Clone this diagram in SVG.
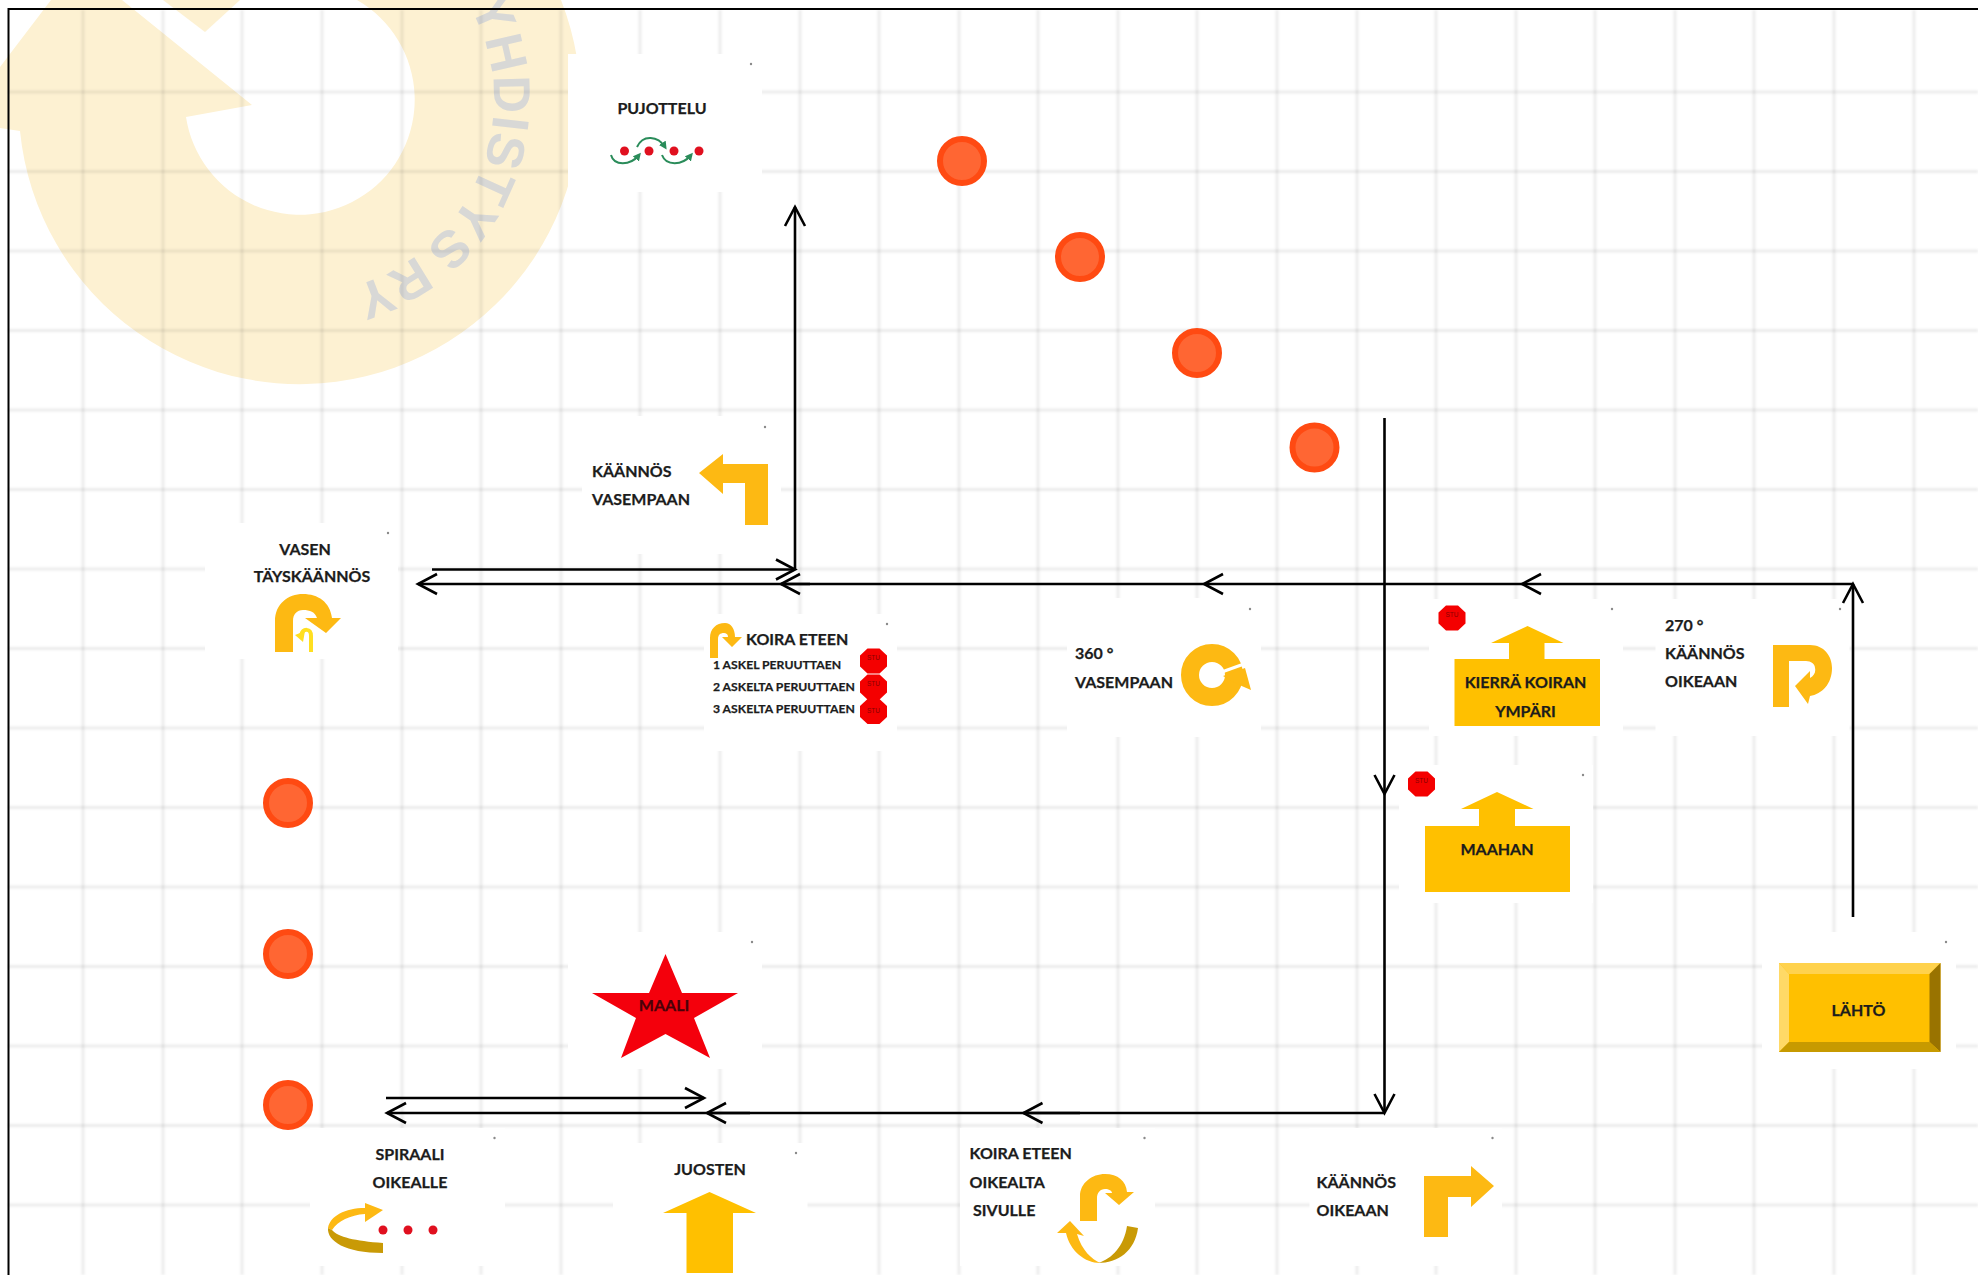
<svg xmlns="http://www.w3.org/2000/svg" xmlns:xlink="http://www.w3.org/1999/xlink" width="1978" height="1275" viewBox="0 0 1978 1275">
<style>
.panel{fill:#fff}
.speck{fill:#8a8a8a}
.t{font-family:Lato,"Liberation Sans",sans-serif;font-weight:700;font-size:16px;fill:#1c1c1c;stroke:#1c1c1c;stroke-width:.25}
.ts{font-size:12.200px}
.m{text-anchor:middle}
.stopt{font-family:"Liberation Sans",Arial,sans-serif;font-size:6.500px;fill:#8a0000;text-anchor:middle}
.y{fill:#fdb913}
.a{fill:#ffc000}
.dk{fill:#c99a06}
.dot{fill:#e0101f}
.spot{fill:#ff6633;stroke:#ff4a12;stroke-width:6}
.c{fill:none;stroke:#000;stroke-width:2.600}
.arr{marker-end:url(#head)}
.grn{fill:none;stroke:#2a8c5a;stroke-width:2}
.grid line{stroke:#000;stroke-opacity:.075;stroke-width:3}
</style>
<defs>
<marker id="head" markerUnits="userSpaceOnUse" markerWidth="26" markerHeight="28" refX="21" refY="12" orient="auto" overflow="visible"><path d="M2,2 L21,12 L2,22" fill="none" stroke="#000" stroke-width="2.600"/></marker>
<marker id="ghead" markerUnits="userSpaceOnUse" markerWidth="10" markerHeight="10" refX="5" refY="4" orient="auto"><path d="M0,0 L8,4 L0,8 Z" fill="#2a8c5a"/></marker>
<filter id="soft" x="-2%" y="-2%" width="104%" height="104%"><feGaussianBlur stdDeviation="0.900"/></filter>
<polygon id="oct" points="-6,-12.500 6,-12.500 13.500,-5.500 13.500,5.500 6,12.500 -6,12.500 -13.500,5.500 -13.500,-5.500" fill="#f40000"/>
<path id="wmarc" d="M448.600,-24.700 A194,194 0 0 1 266.300,291"/>
</defs>
<rect width="1978" height="1275" fill="#fff"/>
<g id="watermark">
<path d="M20,131 A281,281 0 1 0 561,0 L357,0 A115,115 0 1 1 186,117 L252,105 L122,0 L51,0 L0,67 L0,128 Z" fill="#fdf1d2"/>
<polygon points="163,0 240,0 205,32" fill="#fdf1d2"/>
<text font-family="Liberation Sans,Arial,sans-serif" font-weight="700" font-size="52" letter-spacing="1" word-spacing="-6" fill="#d8d8d6"><textPath href="#wmarc" startOffset="37">YHDISTYS RY</textPath></text>
</g>
<g class="grid" filter="url(#soft)">
<line x1="83" y1="10" x2="83" y2="1275"/><line x1="163" y1="10" x2="163" y2="1275"/><line x1="242" y1="10" x2="242" y2="1275"/><line x1="322" y1="10" x2="322" y2="1275"/><line x1="402" y1="10" x2="402" y2="1275"/><line x1="481" y1="10" x2="481" y2="1275"/><line x1="561" y1="10" x2="561" y2="1275"/><line x1="640" y1="10" x2="640" y2="1275"/><line x1="720" y1="10" x2="720" y2="1275"/><line x1="800" y1="10" x2="800" y2="1275"/><line x1="879" y1="10" x2="879" y2="1275"/><line x1="959" y1="10" x2="959" y2="1275"/><line x1="1038" y1="10" x2="1038" y2="1275"/><line x1="1118" y1="10" x2="1118" y2="1275"/><line x1="1197" y1="10" x2="1197" y2="1275"/><line x1="1277" y1="10" x2="1277" y2="1275"/><line x1="1357" y1="10" x2="1357" y2="1275"/><line x1="1436" y1="10" x2="1436" y2="1275"/><line x1="1516" y1="10" x2="1516" y2="1275"/><line x1="1595" y1="10" x2="1595" y2="1275"/><line x1="1675" y1="10" x2="1675" y2="1275"/><line x1="1754" y1="10" x2="1754" y2="1275"/><line x1="1834" y1="10" x2="1834" y2="1275"/><line x1="1914" y1="10" x2="1914" y2="1275"/>
<line x1="8" y1="92" x2="1978" y2="92"/><line x1="8" y1="171.500" x2="1978" y2="171.500"/><line x1="8" y1="251" x2="1978" y2="251"/><line x1="8" y1="330.500" x2="1978" y2="330.500"/><line x1="8" y1="410" x2="1978" y2="410"/><line x1="8" y1="489.500" x2="1978" y2="489.500"/><line x1="8" y1="569" x2="1978" y2="569"/><line x1="8" y1="648.500" x2="1978" y2="648.500"/><line x1="8" y1="728" x2="1978" y2="728"/><line x1="8" y1="807.500" x2="1978" y2="807.500"/><line x1="8" y1="887" x2="1978" y2="887"/><line x1="8" y1="966.500" x2="1978" y2="966.500"/><line x1="8" y1="1046" x2="1978" y2="1046"/><line x1="8" y1="1125.500" x2="1978" y2="1125.500"/><line x1="8" y1="1205" x2="1978" y2="1205"/>
</g>
<path id="frame" d="M8.500,1275 V9 H1978" fill="none" stroke="#000" stroke-width="2"/>

<g transform="translate(0,1)">
<g id="spots">
<circle class="spot" cx="962" cy="160" r="22"/><circle class="spot" cx="1080" cy="256" r="22"/><circle class="spot" cx="1197" cy="352" r="22"/><circle class="spot" cx="1314.500" cy="446.500" r="22"/>
<circle class="spot" cx="288" cy="802" r="22"/><circle class="spot" cx="288" cy="953" r="22"/><circle class="spot" cx="288" cy="1104" r="22"/>
</g>

<g id="node-pujottelu">
<rect class="panel" x="568" y="53" width="194" height="138"/><circle class="speck" cx="751" cy="63" r="1.200"/>
<text class="t m" x="662" y="113">PUJOTTELU</text>
<circle class="dot" cx="624.500" cy="150" r="4.500"/><circle class="dot" cx="649" cy="150" r="4.500"/><circle class="dot" cx="674" cy="150" r="4.500"/><circle class="dot" cx="699" cy="150" r="4.500"/>
<path class="grn" marker-end="url(#ghead)" d="M611,154 C614,165 630,165 639,154"/>
<path class="grn" marker-end="url(#ghead)" d="M637,146 C643,133 658,135 665,146"/>
<path class="grn" marker-end="url(#ghead)" d="M662,154 C666,165 682,165 691,154"/>
</g>
<g id="node-kaannos-vasempaan">
<rect class="panel" x="582" y="415" width="199" height="138"/><circle class="speck" cx="765" cy="426" r="1.200"/>
<text class="t" x="592" y="476">KÄÄNNÖS</text><text class="t" x="592" y="504">VASEMPAAN</text>
<polygon class="y" points="699,472 723,453 723,463 768,463 768,524 745,524 745,482 723,482 723,493"/>
</g>
<g id="node-vasen-tayskaannos">
<rect class="panel" x="205" y="522" width="193" height="136"/><circle class="speck" cx="388" cy="532" r="1.200"/>
<text class="t m" x="305" y="554">VASEN</text><text class="t m" x="312" y="581">TÄYSKÄÄNNÖS</text>
<path class="y" d="M275,651 V620 C275,603 288,593 303,593 C318,593 330,601 332,617 L341,617 L326,632 L305,617 L317,617 C315,611 310,609 303,609 C297,609 293,613 293,620 V651 Z"/>
<path d="M311,651 V635 C311,627 303,627 301,634" fill="none" stroke="#ffdf20" stroke-width="4"/><polygon points="295,634 305,630 303,641" fill="#ffdf20"/>
</g>
<g id="node-koira-eteen-peruuttaen">
<rect class="panel" x="704" y="613" width="193" height="137"/><circle class="speck" cx="887" cy="623" r="1.200"/>
<path class="y" d="M710,657 V637 C710,628 716,622 725,622 C731,622 735,628 735,636 L742,636 L732,646 L722,636 L728,636 C728,633 726,632 724,632 C720,632 718,634 718,638 V657 Z"/>
<text class="t" x="746" y="644">KOIRA ETEEN</text>
<text class="t ts" x="713" y="668">1 ASKEL PERUUTTAEN</text><text class="t ts" x="713" y="690">2 ASKELTA PERUUTTAEN</text><text class="t ts" x="713" y="712">3 ASKELTA PERUUTTAEN</text>
<use href="#oct" x="873.500" y="660"/><text class="stopt" x="873.500" y="659">STU</text>
<use href="#oct" x="873.500" y="686"/><text class="stopt" x="873.500" y="685">STU</text>
<use href="#oct" x="873.500" y="710.500"/><text class="stopt" x="873.500" y="712">STU</text>
</g>
<g id="node-360-vasempaan">
<rect class="panel" x="1067" y="597" width="194" height="139"/><circle class="speck" cx="1250" cy="608" r="1.200"/>
<text class="t" x="1075" y="658">360 °</text><text class="t" x="1075" y="687">VASEMPAAN</text>
<circle cx="1212" cy="674" r="22" fill="none" stroke="#fdb913" stroke-width="18"/>
<path d="M1219,672 L1244,663" stroke="#fff" stroke-width="3"/>
<polygon class="y" points="1223,675 1245,667 1251,689 1237,683"/>
</g>
<g id="node-kierra-koiran">
<rect class="panel" x="1429" y="598" width="194" height="137"/><circle class="speck" cx="1612" cy="608" r="1.200"/>
<use href="#oct" x="1452" y="617"/><text class="stopt" x="1452" y="616">STU</text>
<polygon class="a" points="1454.500,658 1509,658 1509,642 1491,642 1527.500,625 1563.500,642 1544.500,642 1544.500,658 1600,658 1600,725 1454.500,725"/>
<text class="t m" x="1525.500" y="687">KIERRÄ KOIRAN</text><text class="t m" x="1525.500" y="716">YMPÄRI</text>
</g>
<g id="node-270-kaannos">
<rect class="panel" x="1655.500" y="598" width="194" height="137"/><circle class="speck" cx="1840" cy="608" r="1.200"/>
<text class="t" x="1665" y="630">270 °</text><text class="t" x="1665" y="658">KÄÄNNÖS</text><text class="t" x="1665" y="686">OIKEAAN</text>
<path class="y" d="M1773,644 H1810 C1824,644 1832,655 1832,667 C1832,683 1822,693 1810,695 L1808,703 L1795,685 L1810,670 L1810,677 C1814,675 1816,671 1815,667 C1815,663 1811,660 1806,660 H1789 V706 H1773 Z"/>
</g>
<g id="node-maahan">
<rect class="panel" x="1399" y="764" width="194" height="138"/><circle class="speck" cx="1583" cy="774" r="1.200"/>
<use href="#oct" x="1421.500" y="783"/><text class="stopt" x="1421.500" y="782">STU</text>
<polygon class="a" points="1425,825 1479,825 1479,808 1461,808 1497,791 1533.500,808 1515,808 1515,825 1570,825 1570,891 1425,891"/>
<text class="t m" x="1497" y="854">MAAHAN</text>
</g>
<g id="node-lahto">
<rect class="panel" x="1762" y="931" width="194" height="137"/><circle class="speck" cx="1946" cy="941" r="1.200"/>
<rect class="a" x="1779" y="962" width="161.500" height="89"/>
<polygon fill="#ffd24d" points="1779,962 1940.500,962 1929.500,973 1789,973"/>
<polygon fill="#ffd966" points="1779,962 1789,973 1789,1041 1779,1051"/>
<polygon fill="#997300" points="1940.500,962 1940.500,1051 1929.500,1041 1929.500,973"/>
<polygon fill="#c79a00" points="1779,1051 1789,1041 1929.500,1041 1940.500,1051"/>
<text class="t m" x="1858.500" y="1015">LÄHTÖ</text>
</g>
<g id="node-maali">
<rect class="panel" x="568" y="931" width="194" height="137"/><circle class="speck" cx="752" cy="941" r="1.200"/>
<polygon fill="#f4000c" points="665.500,953 682,992 738,992 694,1017 710,1057 665.500,1033 621,1057 636,1017 592,992 649,992"/>
<text class="t m" x="664" y="1010" style="fill:#4a0008;stroke:#4a0008">MAALI</text>
</g>
<g id="node-spiraali">
<rect class="panel" x="310" y="1127" width="195" height="138"/><circle class="speck" cx="494.500" cy="1137" r="1.200"/>
<text class="t m" x="410" y="1159">SPIRAALI</text><text class="t m" x="410" y="1187">OIKEALLE</text>
<path class="y" d="M328,1227 C330,1215 345,1207 365,1207 L365,1202 L383,1209 L365,1221 L365,1213 C350,1214 338,1220 332,1229 Z"/>
<path class="dk" d="M328,1227 C327,1240 345,1252 383,1252 V1242 C355,1240 338,1236 332,1229 Z"/>
<circle class="dot" cx="383" cy="1229" r="4.500"/><circle class="dot" cx="408" cy="1229" r="4.500"/><circle class="dot" cx="433" cy="1229" r="4.500"/>
</g>
<g id="node-juosten">
<rect class="panel" x="613" y="1142" width="194.500" height="133"/><circle class="speck" cx="796" cy="1152" r="1.200"/>
<text class="t m" x="710" y="1174">JUOSTEN</text>
<polygon class="a" points="709.500,1191 756,1212 733,1212 733,1272 686.500,1272 686.500,1212 663,1212"/>
</g>
<g id="node-koira-eteen-oikealta">
<rect class="panel" x="960" y="1127" width="195" height="138"/><circle class="speck" cx="1144.500" cy="1137" r="1.200"/>
<text class="t" x="969.500" y="1158">KOIRA ETEEN</text><text class="t" x="969.500" y="1187">OIKEALTA</text><text class="t" x="973" y="1215">SIVULLE</text>
<path class="y" d="M1080,1220 V1195 C1080,1182 1092,1173 1105,1173 C1118,1173 1126,1180 1127,1191 L1134,1191 L1119,1204 L1105,1192 L1112,1192 C1112,1190 1109,1188 1105,1188 C1100,1188 1097,1192 1097,1197 V1220 Z"/>
<path class="y" d="M1070,1220 L1084,1235 L1077,1233 C1082,1250 1092,1258 1100,1262 C1085,1262 1070,1250 1066,1232 L1057,1232 Z"/>
<path class="dk" d="M1127,1225 L1138,1227 C1135,1250 1118,1262 1098,1262 C1112,1258 1124,1245 1127,1225 Z"/>
</g>
<g id="node-kaannos-oikeaan">
<rect class="panel" x="1309.500" y="1127" width="192.500" height="138"/><circle class="speck" cx="1492.500" cy="1137" r="1.200"/>
<text class="t" x="1316.500" y="1187">KÄÄNNÖS</text><text class="t" x="1316.500" y="1215">OIKEAAN</text>
<polygon class="y" points="1494,1185 1471,1165 1471,1175 1424,1175 1424,1236 1448,1236 1448,1196 1471,1196 1471,1206"/>
</g>

<g id="connectors">
<line class="c arr" x1="1853" y1="916" x2="1853" y2="583"/>
<line class="c arr" x1="1853" y1="583" x2="1522" y2="583"/>
<line class="c arr" x1="1522" y1="583" x2="1204" y2="583"/>
<line class="c arr" x1="1204" y1="583" x2="781" y2="583"/>
<line class="c arr" x1="810" y1="583" x2="418" y2="583"/>
<line class="c arr" x1="432" y1="568.500" x2="795" y2="568.500"/>
<line class="c arr" x1="795" y1="568.500" x2="795" y2="206"/>
<line class="c arr" x1="1384.500" y1="417" x2="1384.500" y2="793"/>
<line class="c arr" x1="1384.500" y1="793" x2="1384.500" y2="1112"/>
<line class="c arr" x1="1384.500" y1="1112" x2="1023.500" y2="1112"/>
<line class="c arr" x1="1080" y1="1112" x2="707" y2="1112"/>
<line class="c arr" x1="750" y1="1112" x2="387" y2="1112"/>
<line class="c arr" x1="386" y1="1097" x2="704" y2="1097"/>
</g>
</g>
</svg>
